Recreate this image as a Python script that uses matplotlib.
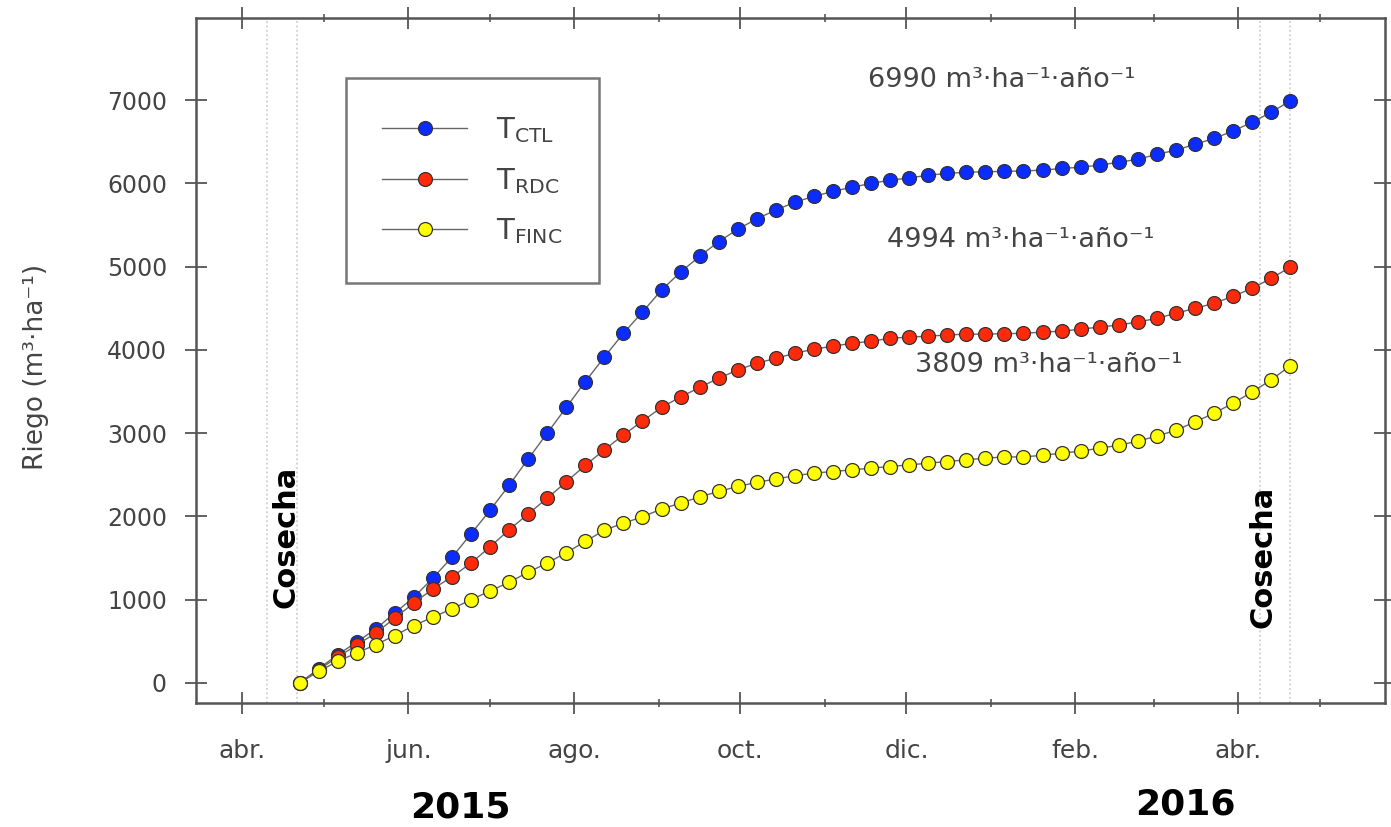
import numpy as np
import pandas as pd
import matplotlib
matplotlib.use('Agg')
import matplotlib.pyplot as plt

# weekly irrigation records, cumulative (m3/ha)
fechas = pd.date_range('2015-04-22', periods=53, freq='7D')

riego_ctl = [0, 170, 340, 490, 650, 840, 1030, 1260, 1510, 1790,
             2075, 2375, 2690, 3000, 3310, 3620, 3915, 4200, 4455, 4720,
             4935, 5125, 5300, 5450, 5575, 5680, 5775, 5845, 5905, 5955,
             6000, 6040, 6065, 6100, 6120, 6135, 6140, 6145, 6150, 6160,
             6180, 6195, 6220, 6255, 6290, 6350, 6400, 6470, 6540, 6630,
             6735, 6855, 6990]
riego_rdc = [0, 160, 310, 455, 600, 780, 960, 1130, 1275, 1440,
             1635, 1840, 2030, 2220, 2415, 2615, 2800, 2980, 3145, 3310,
             3435, 3550, 3660, 3760, 3840, 3900, 3960, 4010, 4045, 4080,
             4105, 4140, 4155, 4165, 4180, 4190, 4190, 4195, 4200, 4215,
             4225, 4250, 4275, 4300, 4335, 4380, 4440, 4500, 4560, 4645,
             4740, 4860, 4994]
riego_finc = [0, 140, 260, 360, 460, 570, 690, 790, 890, 1000,
              1105, 1210, 1330, 1440, 1565, 1700, 1835, 1920, 1995, 2090,
              2160, 2235, 2300, 2360, 2410, 2450, 2490, 2520, 2540, 2560,
              2580, 2600, 2620, 2640, 2660, 2680, 2700, 2715, 2715, 2735,
              2760, 2785, 2820, 2855, 2905, 2965, 3035, 3135, 3240, 3360,
              3495, 3640, 3809]

series = ['T$_{\\mathregular{CTL}}$', 'T$_{\\mathregular{RDC}}$', 'T$_{\\mathregular{FINC}}$']
totales = ['6990', '4994', '3809']
colores = ['#0a2cff', '#ff2a0a', '#ffff00']

meses = pd.to_datetime(['2015-04-01', '2015-06-01', '2015-08-01', '2015-10-01',
                        '2015-12-01', '2016-02-01', '2016-04-01'])
meses_lbl = ['abr.', 'jun.', 'ago.', 'oct.', 'dic.', 'feb.', 'abr.']
meses_min = pd.to_datetime(['2015-05-01', '2015-07-01', '2015-09-01', '2015-11-01',
                            '2016-01-01', '2016-03-01', '2016-05-01'])
cosecha = pd.to_datetime(['2015-04-10', '2015-04-21', '2016-04-09', '2016-04-20'])

plt.rcParams['font.family'] = ['DejaVu Sans']

fig = plt.figure(figsize=(13.91, 8.27), dpi=100)
ax = fig.add_axes([0.141, 0.150, 0.855, 0.828])

for d in cosecha:
    ax.axvline(d, color='#c8c8c8', ls=':', lw=1.2, zorder=0)

for y, lbl, c in zip([riego_ctl, riego_rdc, riego_finc], series, colores):
    ax.plot(fechas, y, color='#666666', lw=1, marker='o', ms=10,
            mfc=c, mec='#333333', mew=0.9, label=lbl)

ax.set_xlim(pd.Timestamp('2015-03-15'), pd.Timestamp('2016-05-25'))
ax.set_ylim(-240, 7985)
ax.set_yticks(np.arange(0, 8000, 1000))
ax.set_xticks(meses)
ax.set_xticklabels(meses_lbl)
ax.set_xticks(meses_min, minor=True)

ax.tick_params(which='major', direction='inout', length=16, width=1.3,
               color='#555555', top=True, right=True, labelsize=17,
               labelcolor='#444444')
ax.tick_params(axis='x', which='major', pad=18, labelsize=18)
ax.tick_params(axis='y', which='major', pad=13)
ax.tick_params(which='minor', direction='inout', length=6, width=1.2,
               color='#555555', top=True)
for s in ax.spines.values():
    s.set_color('#555555')
    s.set_linewidth(1.8)

ax.set_ylabel('Riego (m³·ha⁻¹)', fontsize=19, color='#444444')
ax.yaxis.set_label_coords(-0.124, 0.49)

# annual totals
pos_txt = [('2015-11-17', 7240), ('2015-11-24', 5320), ('2015-12-04', 3820)]
for (d, yy), t in zip(pos_txt, totales):
    ax.text(pd.Timestamp(d), yy, t + ' m³·ha⁻¹·año⁻¹', fontsize=19.5,
            color='#444444', va='center', ha='left')

ax.text(pd.Timestamp('2015-04-17'), 1750, 'Cosecha', rotation=90, fontsize=22,
        fontweight='bold', ha='center', va='center')
ax.text(pd.Timestamp('2016-04-10'), 1510, 'Cosecha', rotation=90, fontsize=22,
        fontweight='bold', ha='center', va='center')

fig.text(0.331, 0.023, '2015', fontsize=26, fontweight='bold', ha='center', va='center')
fig.text(0.852, 0.027, '2016', fontsize=26, fontweight='bold', ha='center', va='center')

leg = ax.legend(loc='upper left', bbox_to_anchor=(0.126, 0.912), fontsize=21,
                frameon=True, fancybox=False, handlelength=2.9, handletextpad=1.0,
                labelspacing=0.72, borderpad=1.25, borderaxespad=0)
leg.get_frame().set_edgecolor('#555555')
leg.get_frame().set_linewidth(1.8)
for t in leg.get_texts():
    t.set_color('#444444')

fig.savefig('out.png', dpi=100)
